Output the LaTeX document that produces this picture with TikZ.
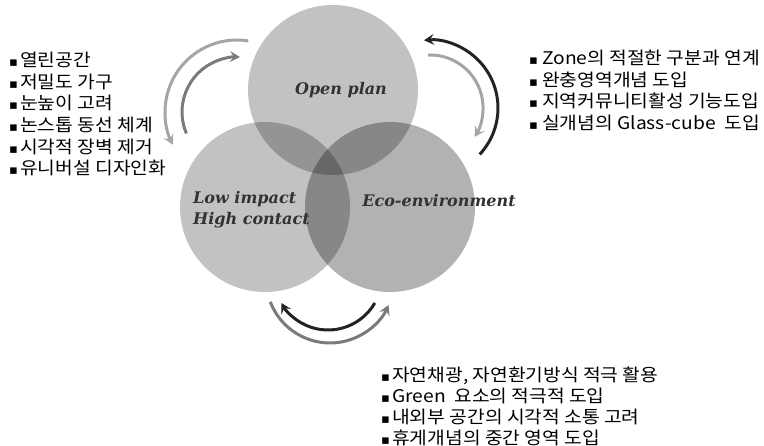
\documentclass[tikz,border=0pt]{standalone}
\usepackage{fontspec}
\usepackage{xcolor}
\usepackage{tikz}
\usetikzlibrary{arrows.meta, positioning}
\newfontfamily\krfont{Noto Sans CJK KR}[FakeStretch=1.1]
\newfontfamily\symfont{DejaVu Sans}
\newfontfamily\tagfont{DejaVu Serif}
\definecolor{lightarc}{RGB}{165, 165, 165}
\definecolor{midarc}{RGB}{122, 122, 122}
\definecolor{darkarc}{RGB}{35, 35, 35}
\definecolor{labelgray}{RGB}{50, 50, 50}
\newcommand{\sqb}{\makebox[11pt][l]{\symfont\fontsize{13}{13}\selectfont ▪}}
\newcommand{\sqw}{\makebox[13pt][l]{\symfont\fontsize{13}{13}\selectfont ▪}}

\begin{document}
\begin{tikzpicture}[
    x=1pt, y=1pt,
    venn/.style={circle, minimum size=170pt, inner sep=0pt, fill=black},
    tag/.style={font=\tagfont\fontsize{16}{21}\selectfont\bfseries\itshape, text=labelgray, align=left, inner sep=0pt},
    list/.style={font=\krfont\fontsize{17.5}{21.6}\selectfont, align=left, inner sep=0pt, anchor=north west},
    turn/.style={line width=3pt, -{Stealth[length=10pt, width=11pt, inset=4pt]}}
]
    \useasboundingbox (0,0) rectangle (764,-446);

    % Circles
    \node[venn, fill opacity=0.24] (open) at (333,-90) {};
    \node[venn, fill opacity=0.24] (low) at (265,-207) {};
    \node[venn, fill opacity=0.30] (eco) at (390,-207) {};

    % Circle labels
    \node[tag] (opentag) at (341,-90) {Open plan};
    \node[tag, anchor=west] (lowtag) at (193,-210) {Low impact\\High contact};
    \node[tag] (ecotag) at (439,-201) {Eco-environment};

    % Lists
    \node[list] (leftlist) at (9,-52) {\sqb 열린공간\\\sqb 저밀도 가구\\\sqb 눈높이 고려\\\sqb 논스톱 동선 체계\\\sqb 시각적 장벽 제거\\\sqb 유니버설 디자인화};
    \node[list] (rightlist) at (529,-50) {\sqw Zone의 적절한 구분과 연계\\\sqw 완충영역개념 도입\\\sqw 지역커뮤니티활성 기능도입\\\sqw 실개념의 Glass-cube~ 도입};
    \node[list, font=\krfont\fontsize{17.5}{20.8}\selectfont] (bottomlist) at (381,-367) {\sqb 자연채광, 자연환기방식 적극 활용\\\sqb Green~ 요소의 적극적 도입\\\sqb 내외부 공간의 시각적 소통 고려\\\sqb 휴게개념의 중간 영역 도입};

    % Arrows - left pair
    \coordinate (lout) at (248.3,-40.9);
    \coordinate (lin) at (186.4,-133.5);
    \draw[turn, lightarc] (lout) arc[start angle=81, end angle=207, radius=72];
    \draw[turn, midarc] (lin) arc[start angle=203, end angle=87, radius=55];

    % Arrows - right pair
    \coordinate (rout) at (479.7,-154.4);
    \coordinate (rin) at (428.2,-55);
    \draw[turn, darkarc] (rout) arc[start angle=-43, end angle=95, radius=68];
    \draw[turn, lightarc] (rin) arc[start angle=92, end angle=-33, radius=53];

    % Arrows - bottom pair
    \coordinate (bin) at (374.8,-303);
    \coordinate (bout) at (270.3,-301.9);
    \draw[turn, darkarc] (bin) arc[start angle=-30, end angle=-150, radius=54];
    \draw[turn, midarc] (bout) arc[start angle=-159, end angle=-24, radius=64];
\end{tikzpicture}
\end{document}
